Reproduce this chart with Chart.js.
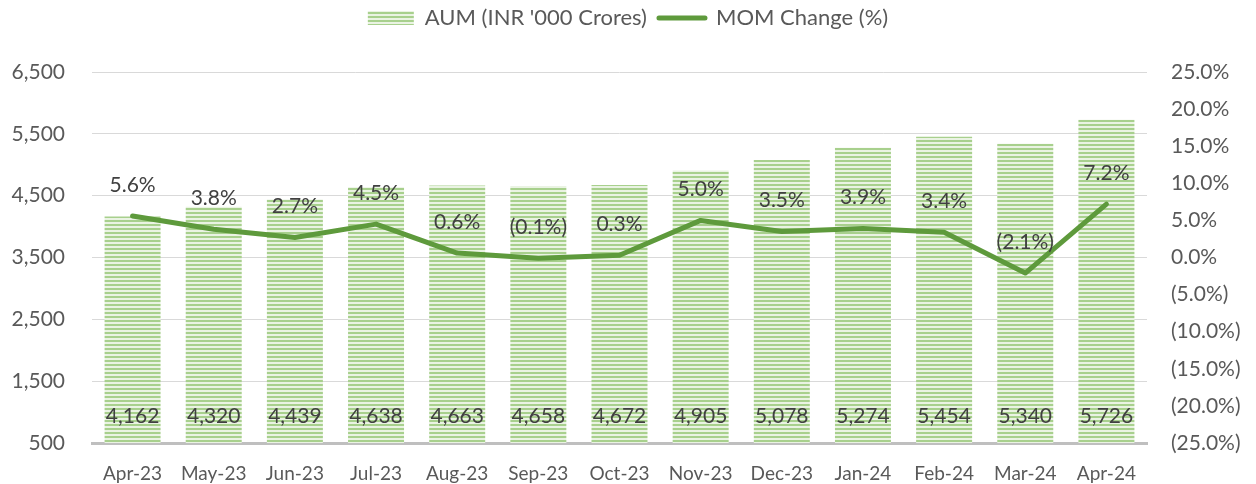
<!DOCTYPE html>
<html><head><meta charset="utf-8">
<script src="https://cdn.jsdelivr.net/npm/chart.js@4.4.0/dist/chart.umd.min.js"></script>
<style>html,body{margin:0;padding:0;background:#fff}#wrap{width:1256px;height:484px}</style>
</head><body><div id="wrap"><canvas id="c" width="1256" height="484"></canvas></div>
<script>
const categories = ["Apr-23","May-23","Jun-23","Jul-23","Aug-23","Sep-23","Oct-23","Nov-23","Dec-23","Jan-24","Feb-24","Mar-24","Apr-24"];
const aumValues = [4162,4320,4439,4638,4663,4658,4672,4905,5078,5274,5454,5340,5726];
const momValues = [5.6,3.8,2.7,4.5,0.6,-0.1,0.3,5.0,3.5,3.9,3.4,-2.1,7.2];
const leftTicks = [500,1500,2500,3500,4500,5500,6500];
const rightTicks = [-25,-20,-15,-10,-5,0,5,10,15,20,25];

const FONT = "Lato, 'Open Sans', sans-serif";
const TXT = '#595959';
const LINE = '#5e9a3c';

// stripe pattern
const pc = document.createElement('canvas');
pc.width = 4; pc.height = 4;
const px = pc.getContext('2d');
px.fillStyle = '#eaf3e3'; px.fillRect(0,0,4,4);
px.fillStyle = '#a8d08d'; px.fillRect(0,0,4,2);
const stripe = document.getElementById('c').getContext('2d').createPattern(pc,'repeat');

function fmtPct(v){ return v < 0 ? '(' + Math.abs(v).toFixed(1) + '%)' : v.toFixed(1) + '%'; }
function fmtNum(v){ return v.toLocaleString('en-US'); }

const labelPlugin = {
  id: 'labels',
  afterDatasetsDraw(chart){
    const ctx = chart.ctx;
    ctx.save();
    ctx.font = '21px ' + FONT;
    ctx.fillStyle = '#404040';
    ctx.textAlign = 'center';
    ctx.textBaseline = 'middle';
    const barMeta = chart.getDatasetMeta(0);
    barMeta.data.forEach((el,i)=>{
      ctx.fillText(fmtNum(aumValues[i]), el.x, chart.chartArea.bottom - 27);
    });
    const lineMeta = chart.getDatasetMeta(1);
    lineMeta.data.forEach((el,i)=>{
      ctx.fillText(fmtPct(momValues[i]), el.x, el.y - 31);
    });
    ctx.restore();
  }
};

const legendHeight = {
  id:'legendHeight',
  beforeInit(chart){
    const fit = chart.legend.fit;
    chart.legend.fit = function(){ fit.call(this); this.height = 77; };
  }
};

new Chart(document.getElementById('c'), {
  data: {
    labels: categories,
    datasets: [
      { type:'bar', label:"AUM (INR '000 Crores)", data: aumValues, backgroundColor: stripe,
        borderWidth:0, barPercentage:0.69, categoryPercentage:1, yAxisID:'y', order:2 },
      { type:'line', label:'MOM Change (%)', data: momValues, borderColor: LINE, backgroundColor: LINE,
        borderWidth:5, pointRadius:0, tension:0, borderCapStyle:'round', borderJoinStyle:'round',
        yAxisID:'y1', order:1 }
    ]
  },
  options: {
    responsive:false, animation:false,
    layout:{ padding:{ left:0, right:0, top:-5, bottom:0 } },
    plugins:{
      legend:{ position:'top', labels:{ usePointStyle:true, pointStyleWidth:46, boxHeight:14,
        font:{ size:22, family:FONT }, color:TXT, padding:12,
        generateLabels(chart){
          const items = Chart.defaults.plugins.legend.labels.generateLabels(chart);
          items.sort((a,b)=>a.datasetIndex-b.datasetIndex);
          items[0].pointStyle = 'rect'; items[0].lineWidth = 0; items[0].strokeStyle = 'rgba(0,0,0,0)';
          items[1].pointStyle = 'line'; items[1].lineWidth = 5; items[1].lineCap='round';
          return items;
        } } },
      tooltip:{ enabled:false }
    },
    scales:{
      x:{ grid:{ display:false }, border:{ display:true, color:'#bfbfbf', width:3 },
          afterFit(s){ s.height = 41; },
          ticks:{ font:{ size:19, family:FONT }, color:TXT, padding:11, maxRotation:0 } },
      y:{ position:'left', min:500, max:6500,
          afterBuildTicks(s){ s.ticks = leftTicks.map(v=>({value:v})); },
          afterFit(s){ s.width = 92; },
          grid:{ color:(c)=> c.tick && c.tick.value===500 ? 'rgba(0,0,0,0)' : '#d9d9d9', lineWidth:1, drawTicks:false },
          border:{ display:false },
          ticks:{ font:{ size:21, family:FONT }, color:TXT, padding:27, callback:(v)=>fmtNum(v) } },
      y1:{ position:'right', min:-25, max:25,
          afterBuildTicks(s){ s.ticks = rightTicks.map(v=>({value:v})); },
          afterFit(s){ s.width = 109; },
          grid:{ display:false, drawTicks:false }, border:{ display:false },
          ticks:{ font:{ size:21, family:FONT }, color:TXT, padding:24, callback:(v)=>fmtPct(v) } }
    }
  },
  plugins:[labelPlugin, legendHeight]
});
</script></body></html>
